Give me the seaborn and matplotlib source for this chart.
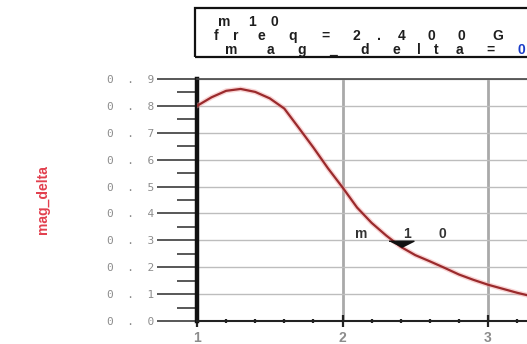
import matplotlib
matplotlib.use("Agg")
import matplotlib.pyplot as plt
import seaborn as sns
import pandas as pd
from matplotlib.transforms import ScaledTranslation
from matplotlib.font_manager import FontProperties, findfont, get_font
from matplotlib.ft2font import LoadFlags
from matplotlib.patches import Rectangle
from matplotlib.ticker import MultipleLocator

# Swept response, frequency in GHz
freq_ghz = [1.0, 1.1, 1.2, 1.3, 1.4, 1.5, 1.6, 1.7, 1.8, 1.9, 2.0, 2.1,
            2.2, 2.3, 2.4, 2.5, 2.6, 2.7, 2.8, 2.9, 3.0, 3.1, 3.2, 3.3]
mag_delta = [0.800, 0.832, 0.856, 0.863, 0.852, 0.828, 0.790, 0.718,
             0.645, 0.568, 0.497, 0.422, 0.365, 0.318, 0.276, 0.245,
             0.222, 0.198, 0.173, 0.153, 0.135, 0.120, 0.105, 0.092]

# Marker m10
marker_name = "m10"
marker_freq = 2.4
marker_mag = 0.276
readout_lines = ["m10", "freq=2.400GHz", "mag_delta="]
readout_value = "0.276"

y_ticks = [0.0, 0.1, 0.2, 0.3, 0.4, 0.5, 0.6, 0.7, 0.8, 0.9]
x_ticks = [1, 2, 3]
x_labels = ["1", "2", "3"]
y_title = "mag_delta"

sns.set_theme(style="white")
plt.rcParams["font.family"] = ["Liberation Sans", "DejaVu Sans"]

W, H = 527, 344
PX = 72.0 / 100.0  # points per pixel
fig = plt.figure(figsize=(W / 100, H / 100), dpi=100)
fig.patch.set_facecolor("white")
ax = fig.add_axes([197 / W, 23 / H, 330 / W, 242 / H])
ax.set_facecolor("white")

df = pd.DataFrame({"freq": freq_ghz, "mag": mag_delta})
sns.lineplot(data=df, x="freq", y="mag", ax=ax, color="#f2a0a0",
             lw=3.6, alpha=0.45, zorder=3)
sns.lineplot(data=df, x="freq", y="mag", ax=ax, color="#9a2a2c",
             lw=1.6, zorder=4)

# marker: flat downward triangle with its tip on the trace
ax.plot([marker_freq], [marker_mag], ls="none",
        marker=[(-1, 0.5), (1, 0.5), (0, 0)], ms=18, color="#111111",
        zorder=6, clip_on=False)

ax.set_xlim(1, 3.268)
ax.set_ylim(0, 0.9)
ax.set_xlabel("")
ax.set_ylabel(y_title, color="#e2404e", fontsize=10, fontweight="bold")
ax.yaxis.set_label_coords(-0.445, 0.5)

ax.set_yticks(y_ticks)
ax.set_yticklabels(["  .  ".join(f"{v:.1f}".split(".")) for v in y_ticks],
                   family="DejaVu Sans Mono", fontsize=8, color="#8c8c8c")
ax.yaxis.set_minor_locator(MultipleLocator(0.05))
ax.tick_params(axis="y", which="major", direction="out", length=40 * PX,
               width=1.1, color="#2a2a2a", pad=2, left=True)
ax.tick_params(axis="y", which="minor", direction="out", length=20 * PX,
               width=1.1, color="#2a2a2a", left=True)

ax.set_xticks(x_ticks)
ax.set_xticklabels(x_labels, fontsize=10, fontweight="bold", color="#8c8c8c")
ax.xaxis.set_minor_locator(MultipleLocator(0.2))
ax.tick_params(axis="x", which="major", direction="inout", length=12 * PX,
               width=1.6, color="#222222", pad=3, bottom=True)
ax.tick_params(axis="x", which="minor", direction="inout", length=5 * PX,
               width=1.6, color="#222222", bottom=True)

ax.set_axisbelow(True)
ax.grid(axis="y", which="major", color="#bdbdbd", lw=1.0)
ax.grid(axis="x", which="major", color="#a9a9a9", lw=2.0)

ax.spines["left"].set_linewidth(3.2)
ax.spines["left"].set_color("#111111")
ax.spines["bottom"].set_linewidth(1.5)
ax.spines["bottom"].set_color("#222222")
ax.spines["top"].set_linewidth(1.2)
ax.spines["top"].set_color("#444444")
ax.spines["right"].set_visible(False)


def spread_text(x, y, segments, transform, size, stretch, dx=0.0, dy=0.0,
                weight="bold"):
    """Write text glyph by glyph with widened character cells (offsets in points)."""
    prop = FontProperties(family="Liberation Sans", weight=weight, size=size)
    font = get_font(findfont(prop))
    font.set_size(size, 72)
    pos = 0.0
    for text, color in segments:
        for ch in text:
            adv = font.load_char(ord(ch), flags=LoadFlags.NO_HINTING).linearHoriAdvance / 65536
            cell = adv * stretch
            off = ScaledTranslation((dx + pos + cell / 2) / 72, dy / 72,
                                    fig.dpi_scale_trans)
            fig.text(x, y, ch, transform=transform + off, ha="center",
                     va="baseline", fontproperties=prop, color=color,
                     clip_on=False, zorder=7)
            pos += cell


# marker readout box
fig.add_artist(Rectangle((195 / W, (H - 57) / H), (640 - 195) / W, 49 / H,
                         transform=fig.transFigure, fill=False, lw=1.6,
                         ec="#111111", clip_on=False))
dark = "#1e1e1e"
spread_text(207 / W, (H - 26) / H, [(readout_lines[0], dark)],
            fig.transFigure, 10, 2.8)
spread_text(207 / W, (H - 40) / H, [(readout_lines[1], dark)],
            fig.transFigure, 10, 3.9)
spread_text(207 / W, (H - 54) / H, [(readout_lines[2], dark),
                                    (readout_value, "#1a3cc8")],
            fig.transFigure, 10, 3.9)

# marker name above the triangle
spread_text(marker_freq, marker_mag, [(marker_name, "#333333")], ax.transData,
            10, 4.6, dx=-68 * PX, dy=9 * PX)

fig.savefig("out.png", dpi=100, facecolor="white")
